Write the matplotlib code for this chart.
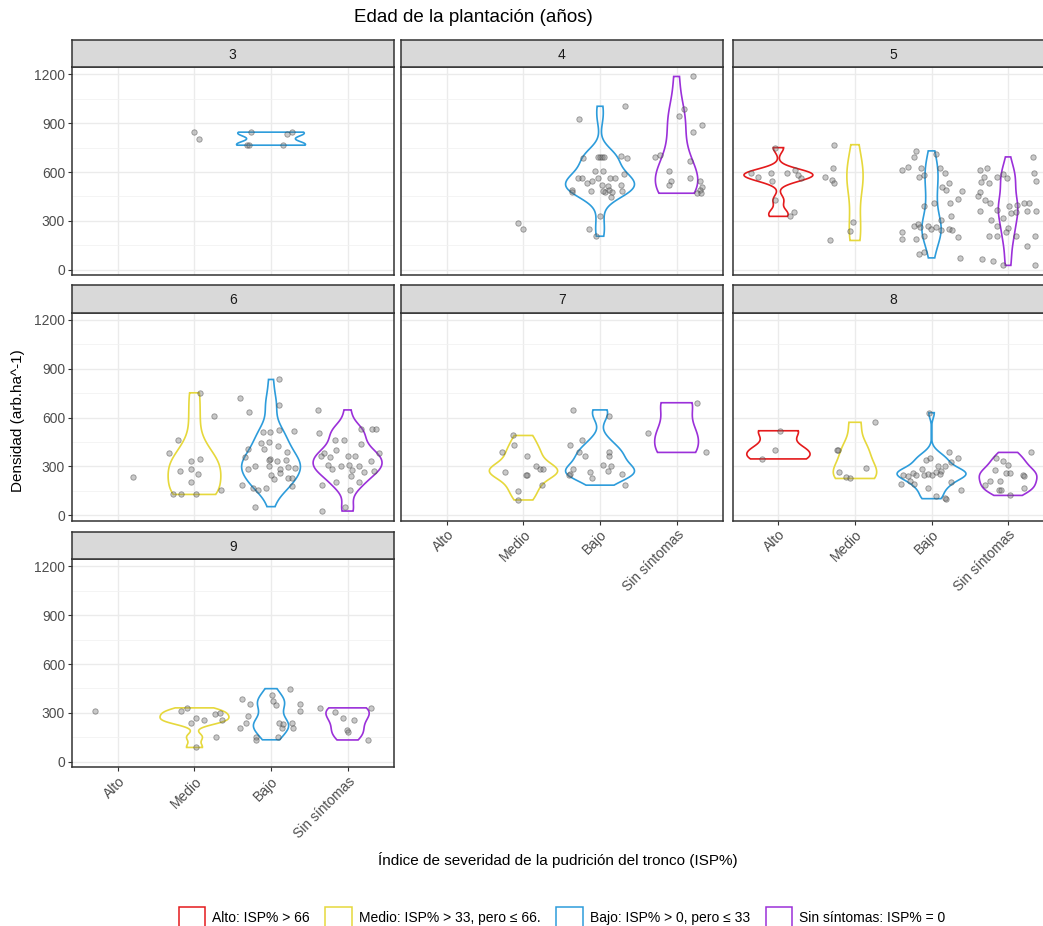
import numpy as np
import matplotlib
matplotlib.use("Agg")
import matplotlib.pyplot as plt
from matplotlib.patches import Patch

plt.rcParams['font.family'] = ['Liberation Sans', 'DejaVu Sans']

# ---------------------------------------------------------------- data
ages = [3, 4, 5, 6, 7, 8, 9]
categories = ["Alto", "Medio", "Bajo", "Sin síntomas"]
legend_labels = ["Alto: ISP% > 66",
                 "Medio: ISP% > 33, pero ≤ 66.",
                 "Bajo: ISP% > 0, pero ≤ 33",
                 "Sin síntomas: ISP% = 0"]
colors = ["#E41A1C", "#E6D83C", "#2D9CDB", "#9B30D9"]

# tree density (arb/ha) per plantation age, one dict per severity class
alto_vals = {
    5: [750, 592, 567, 592, 547, 592, 612, 582, 561, 429, 328, 352],
    6: [236],
    8: [519, 403, 346],
    9: [311],
}
medio_vals = {
    3: [845, 805],
    4: [287, 251],
    5: [768, 626, 567, 551, 535, 291, 236, 180],
    6: [752, 610, 382, 464, 271, 332, 346, 285, 256, 205, 128, 128, 128, 153],
    7: [490, 433, 386, 366, 264, 250, 250, 305, 285, 285, 185, 152, 94],
    8: [571, 403, 403, 291, 264, 236, 226],
    9: [311, 331, 236, 270, 256, 291, 301, 254, 152, 88],
}
bajo_vals = {
    3: [845, 831, 845, 769, 765, 769],
    4: [927, 1004, 689, 690, 690, 690, 695, 700, 689, 608, 608, 586, 565, 565,
        565, 565, 565, 531, 545, 521, 516, 480, 485, 490, 480, 521, 485, 490,
        476, 485, 446, 332, 253, 206],
    5: [730, 695, 710, 612, 632, 622, 568, 582, 626, 592, 531, 511, 490, 486,
        434, 409, 413, 389, 332, 307, 283, 271, 263, 271, 251, 263, 246, 251,
        243, 230, 186, 186, 206, 202, 108, 95, 73],
    6: [834, 722, 677, 636, 511, 511, 521, 519, 443, 447, 407, 407, 427, 386,
        358, 346, 338, 332, 338, 305, 301, 285, 285, 297, 291, 250, 260, 224,
        230, 230, 183, 169, 169, 179, 155, 53],
    7: [647, 611, 464, 433, 386, 366, 386, 366, 285, 311, 305, 264, 254, 250,
        230, 270, 254, 185],
    8: [630, 386, 352, 340, 352, 330, 301, 301, 271, 283, 260, 246, 242, 246,
        189, 209, 250, 256, 246, 264, 256, 205, 169, 155, 118, 102, 108, 189],
    9: [388, 357, 281, 236, 210, 155, 135, 412, 372, 449, 357, 311, 351, 236,
        210, 155, 236, 210, 230],
}
sin_vals = {
    4: [1187, 988, 947, 892, 846, 693, 707, 665, 608, 545, 521, 565, 545, 511,
        490, 470, 470],
    5: [693, 592, 547, 612, 622, 568, 541, 535, 568, 586, 561, 480, 453, 429,
        358, 409, 368, 317, 389, 348, 352, 395, 409, 413, 358, 358, 307, 270,
        258, 229, 206, 206, 206, 149, 206, 68, 54, 27, 27],
    6: [647, 531, 531, 529, 504, 464, 464, 439, 382, 382, 366, 403, 358, 366,
        366, 311, 307, 305, 285, 275, 301, 332, 264, 270, 240, 207, 207, 183,
        155, 51, 26],
    7: [691, 508, 386],
    8: [386, 352, 332, 311, 281, 260, 260, 250, 240, 209, 209, 185, 155, 155,
        169, 122],
    9: [331, 307, 270, 256, 193, 183, 331, 134],
}

# horizontal jitter of each point around its category position
alto_dx = {
    5: [-0.04, -0.36, -0.27, -0.10, -0.08, 0.11, 0.21, 0.26, 0.29, -0.04, 0.15, 0.20],
    6: [0.20],
    8: [0.02, -0.05, -0.21],
    9: [-0.30],
}
medio_dx = {
    3: [0.00, 0.06],
    4: [-0.07, -0.01],
    5: [-0.27, -0.29, -0.39, -0.30, -0.28, -0.03, -0.07, -0.32],
    6: [0.07, 0.26, -0.33, -0.22, -0.19, -0.05, 0.07, -0.04, 0.04, -0.05, -0.28,
        -0.17, 0.02, 0.35],
    7: [-0.14, -0.13, -0.28, 0.05, -0.24, 0.04, 0.03, 0.16, 0.22, 0.25, 0.24,
        -0.07, -0.07],
    8: [0.26, -0.24, -0.22, 0.14, -0.21, -0.12, -0.07],
    9: [-0.18, -0.10, -0.04, 0.02, 0.12, 0.27, 0.33, 0.36, 0.28, 0.02],
}
bajo_dx = {
    3: [-0.26, 0.21, 0.27, -0.32, -0.29, 0.16],
    4: [-0.27, 0.33, -0.22, -0.03, 0.00, 0.02, 0.05, 0.28, 0.35, -0.07, 0.04,
        0.31, -0.29, -0.24, -0.02, 0.13, 0.20, -0.17, -0.11, 0.02, 0.10, 0.07,
        0.04, 0.12, 0.15, 0.28, 0.29, -0.36, -0.37, -0.12, 0.14, 0.00, -0.14,
        -0.05],
    5: [-0.20, -0.23, 0.06, -0.38, -0.31, -0.14, -0.16, -0.10, 0.11, 0.17, 0.23,
        0.14, 0.19, 0.40, 0.35, 0.24, 0.03, -0.10, 0.25, 0.12, -0.18, -0.23,
        -0.15, -0.05, -0.01, 0.06, 0.13, 0.23, 0.27, -0.38, -0.39, -0.20, -0.10,
        0.35, -0.10, -0.17, 0.37],
    6: [0.11, -0.40, 0.11, -0.29, -0.10, -0.01, 0.11, 0.30, -0.13, -0.03, -0.09,
        -0.30, 0.09, 0.21, -0.34, -0.01, -0.02, 0.08, 0.20, -0.21, -0.02, -0.30,
        0.12, 0.22, 0.31, 0.00, 0.12, 0.04, 0.22, 0.28, -0.38, -0.23, -0.07,
        0.28, -0.17, -0.21],
    7: [-0.35, 0.12, -0.24, -0.39, -0.27, -0.19, 0.12, 0.12, -0.35, 0.04, 0.14,
        -0.13, -0.39, -0.41, -0.11, 0.10, 0.29, 0.32],
    8: [-0.03, 0.23, 0.35, -0.07, -0.02, 0.25, 0.17, 0.09, 0.13, -0.12, -0.24,
        -0.20, -0.31, -0.37, -0.40, -0.28, -0.10, -0.05, 0.01, 0.06, 0.11, 0.26,
        -0.04, 0.38, 0.06, 0.19, 0.17, -0.23],
    9: [-0.38, -0.27, -0.30, -0.33, -0.41, -0.20, -0.19, 0.01, 0.03, 0.25, 0.38,
        0.38, 0.07, 0.10, 0.14, 0.09, 0.28, 0.29, 0.15],
}
sin_dx = {
    4: [0.22, 0.10, 0.03, 0.33, 0.21, -0.28, -0.21, 0.18, -0.10, -0.07, -0.10,
        0.18, 0.31, 0.33, 0.30, 0.27, 0.32],
    5: [0.32, 0.34, 0.36, -0.37, -0.28, -0.31, -0.36, -0.25, -0.15, -0.07, -0.02,
        -0.37, -0.39, -0.30, -0.37, -0.23, -0.14, -0.06, 0.01, 0.04, 0.10, 0.12,
        0.21, 0.27, 0.25, 0.36, -0.22, -0.14, 0.00, -0.03, -0.25, -0.14, 0.11,
        0.25, 0.35, -0.34, -0.20, -0.07, 0.35],
    6: [-0.39, 0.32, 0.37, 0.17, -0.37, -0.17, -0.05, 0.17, -0.31, 0.41, -0.35,
        -0.15, -0.23, 0.00, 0.10, 0.02, -0.26, -0.08, -0.20, 0.06, 0.15, 0.31,
        0.22, 0.35, 0.05, -0.15, 0.15, -0.34, 0.03, -0.04, -0.34],
    7: [0.27, -0.37, 0.39],
    8: [0.30, -0.16, -0.07, 0.00, -0.17, -0.03, 0.03, 0.20, 0.21, -0.23, -0.10,
        -0.30, -0.12, -0.09, 0.21, 0.03],
    9: [-0.36, -0.16, -0.06, 0.09, -0.01, 0.01, 0.31, 0.27],
}

class_vals = [alto_vals, medio_vals, bajo_vals, sin_vals]
class_dx = [alto_dx, medio_dx, bajo_dx, sin_dx]


# ---------------------------------------------------------------- helpers
def bw_nrd0(x):
    x = np.asarray(x, float)
    sd = x.std(ddof=1)
    q75, q25 = np.percentile(x, [75, 25])
    lo = min(sd, (q75 - q25) / 1.34)
    if lo <= 0:
        lo = sd if sd > 0 else 1.0
    return 0.9 * lo * len(x) ** (-0.2)


def density(x, grid):
    x = np.asarray(x, float)
    bw = bw_nrd0(x)
    z = (grid[:, None] - x[None, :]) / bw
    return np.exp(-0.5 * z ** 2).sum(axis=1) / (len(x) * bw * np.sqrt(2 * np.pi))


# ---------------------------------------------------------------- layout
W, H = 1043, 926
fig = plt.figure(figsize=(W / 100, H / 100), dpi=100)

col_left = [72, 401, 732.5]
row_top = [67, 312.5, 559]
panel_w, panel_h, strip_h = 321.5, 208, 27.5

all_v = [v for d in class_vals for lst in d.values() for v in lst]
vmin, vmax = min(all_v), max(all_v)
pad = 0.05 * (vmax - vmin)
ylim = (vmin - pad, vmax + pad)

edge = "#333333"

for i, age in enumerate(ages):
    r, c = divmod(i, 3)
    left, top = col_left[c], row_top[r]
    ax = fig.add_axes([left / W, 1 - (top + panel_h) / H, panel_w / W, panel_h / H])
    sax = fig.add_axes([left / W, 1 - top / H, panel_w / W, strip_h / H])

    # strip
    sax.set_facecolor("#D9D9D9")
    sax.set_xticks([])
    sax.set_yticks([])
    for s in sax.spines.values():
        s.set_color(edge)
        s.set_linewidth(1.1)
    sax.text(0.5, 0.45, str(age), ha="center", va="center", fontsize=10,
             color="#1A1A1A", transform=sax.transAxes)

    # panel
    ax.set_xlim(0.4, 4.6)
    ax.set_ylim(*ylim)
    ax.set_xticks([1, 2, 3, 4])
    ax.set_yticks([0, 300, 600, 900, 1200])
    ax.set_yticks([150, 450, 750, 1050], minor=True)
    ax.grid(which="major", color="#EBEBEB", lw=1.0)
    ax.grid(which="minor", axis="y", color="#F2F2F2", lw=0.6)
    ax.tick_params(which="minor", length=0)
    ax.set_axisbelow(True)
    for s in ax.spines.values():
        s.set_color(edge)
        s.set_linewidth(1.1)

    show_y = (c == 0)
    show_x = (i >= 4)
    ax.tick_params(axis="y", length=3 if show_y else 0, color=edge,
                   labelleft=show_y, labelsize=10, labelcolor="#4D4D4D", pad=2)
    ax.tick_params(axis="x", length=3 if show_x else 0, color=edge,
                   labelbottom=show_x, labelsize=10, labelcolor="#4D4D4D", pad=2)
    if show_x:
        ax.set_xticklabels(categories, rotation=45, ha="right", va="top",
                           rotation_mode="anchor")

    # violins (area-scaled within the panel, trimmed to the data range)
    dens = {}
    for k in range(4):
        vals = class_vals[k].get(age, [])
        if len(vals) >= 3:
            grid = np.linspace(min(vals), max(vals), 512)
            dens[k] = (grid, density(vals, grid))
    if dens:
        dmax = max(d.max() for _, d in dens.values())
        for k, (grid, d) in dens.items():
            hw = 0.45 * d / dmax
            xs = np.concatenate([k + 1 - hw, (k + 1 + hw)[::-1]])
            ys = np.concatenate([grid, grid[::-1]])
            ax.fill(xs, ys, facecolor="none", edgecolor=colors[k], lw=1.2,
                    zorder=2)

    # jittered observations
    for k in range(4):
        vals = class_vals[k].get(age, [])
        if vals:
            xs = (k + 1) + np.asarray(class_dx[k][age])
            ax.scatter(xs, vals, s=15, facecolor=(0.45, 0.45, 0.45, 0.38),
                       edgecolor=(0.25, 0.25, 0.25, 0.5), linewidths=0.6,
                       zorder=3)

# titles
fig.text(473 / W, 1 - 18 / H, "Edad de la plantación (años)", ha="center",
         va="center", fontsize=13.5, color="black")
fig.text(558 / W, 1 - 860 / H,
         "Índice de severidad de la pudrición del tronco (ISP%)",
         ha="center", va="center", fontsize=11, color="black")
fig.text(18 / W, 1 - 421 / H, "Densidad (arb.ha^-1)", rotation=90,
         ha="center", va="center", fontsize=11, color="black")

handles = [Patch(facecolor="white", edgecolor=col, lw=1.1) for col in colors]
fig.legend(handles, legend_labels, loc="center",
           bbox_to_anchor=(562 / W, 1 - 918 / H), ncol=4, frameon=False,
           fontsize=10, handlelength=1.9, handleheight=2.1, handletextpad=0.5,
           columnspacing=1.15, borderpad=0, borderaxespad=0)

fig.savefig("out.png", dpi=100)
